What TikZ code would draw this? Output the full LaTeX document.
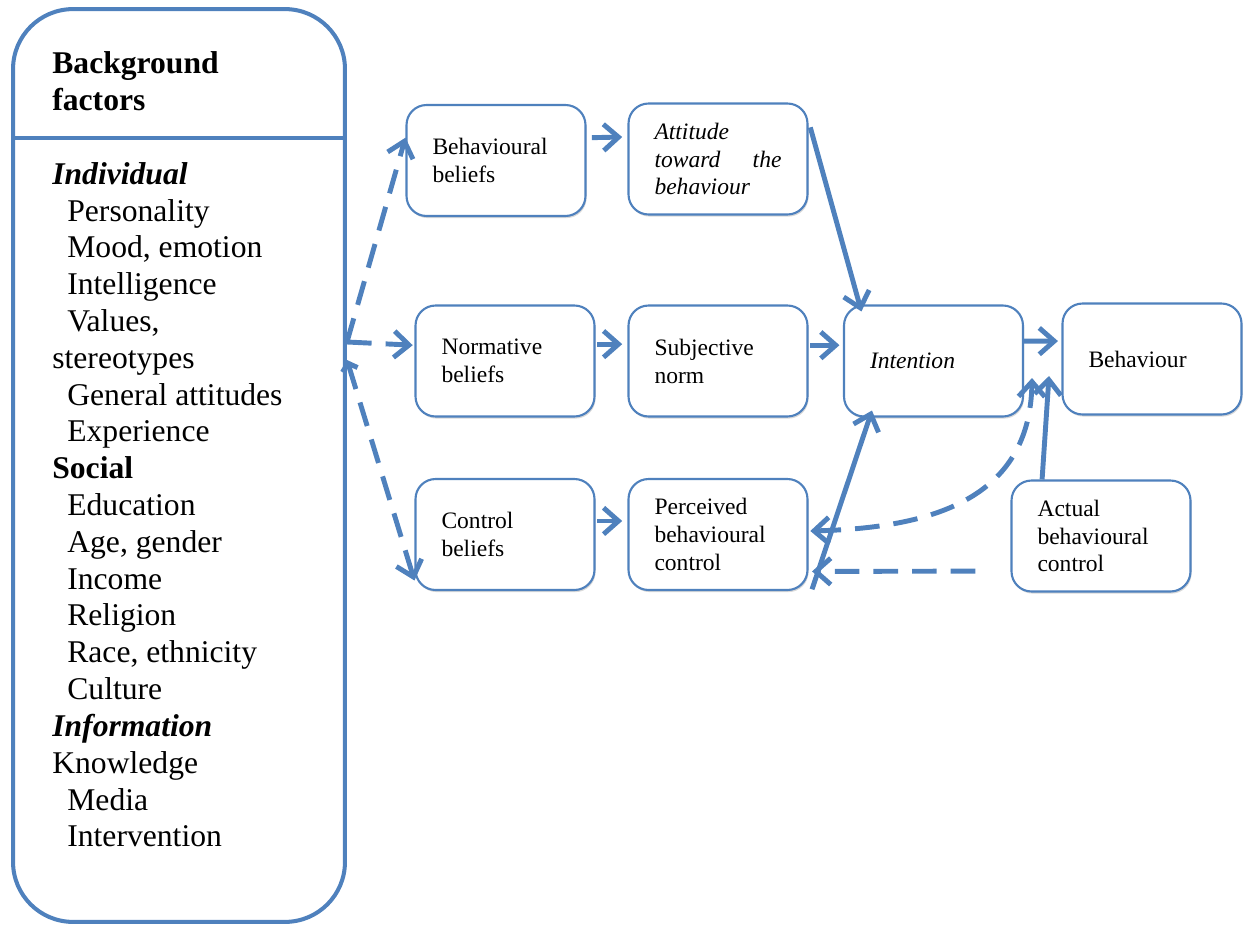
\documentclass[tikz,border=0pt]{standalone}
\usepackage{fontspec}
\setmainfont{Liberation Serif}
\usetikzlibrary{arrows.meta,shadows}
\definecolor{tpbblue}{HTML}{4F81BD}

\begin{document}
\begin{tikzpicture}[x=0.02cm,y=-0.02cm,
        factor/.style={draw=tpbblue, line width=1.2pt, fill=white, rounded corners=0.4cm,
            text width=2.54cm, align=left, inner xsep=0.52cm, minimum height=2.22cm,
            font=\fontsize{13.4}{15.9}\selectfont,
            drop shadow={opacity=0.3, shadow xshift=0.6pt, shadow yshift=-1.2pt}},
        flow/.style={draw=tpbblue, line width=2.8pt, -{Straight Barb[length=8.5pt,width=15pt]}},
        dflow/.style={flow, dash pattern=on 14pt off 8pt}]
    \useasboundingbox (0,0) rectangle (1248,926);
    % background factors
    \node[draw=tpbblue, line width=2.3pt, rounded corners=1.2cm, minimum width=6.64cm, minimum height=18.26cm] (bg) at (179,465.5) {};
    \coordinate (divide) at (0,138);
    \draw[tpbblue, line width=2.3pt] (bg.west |- divide) -- (bg.east |- divide);
    \node[anchor=north west, inner sep=0, align=left, font=\fontsize{18}{20.95}\selectfont\bfseries] (bgtitle) at (52,51) {Background\\factors};
    \node[anchor=north west, inner sep=0, align=left, font=\fontsize{18}{20.95}\selectfont] (bglist) at (52,162) {%
        \textbf{\textit{Individual}}\\
        \hspace*{0.3cm}Personality\\
        \hspace*{0.3cm}Mood, emotion\\
        \hspace*{0.3cm}Intelligence\\
        \hspace*{0.3cm}Values,\\
        stereotypes\\
        \hspace*{0.3cm}General attitudes\\
        \hspace*{0.3cm}Experience\\
        \textbf{Social}\\
        \hspace*{0.3cm}Education\\
        \hspace*{0.3cm}Age, gender\\
        \hspace*{0.3cm}Income\\
        \hspace*{0.3cm}Religion\\
        \hspace*{0.3cm}Race, ethnicity\\
        \hspace*{0.3cm}Culture\\
        \textbf{\textit{Information}}\\
        Knowledge\\
        \hspace*{0.3cm}Media\\
        \hspace*{0.3cm}Intervention};
    % beliefs
    \node[factor] (bb) at (496,160.5) {Behavioural\\beliefs};
    \node[factor] (nb) at (505,361) {Normative\\beliefs};
    \node[factor] (cb) at (505,534.5) {Control\\beliefs};
    % attitude, norm, control
    \node[factor] (att) at (718,159) {\textit{Attitude}\\\textit{toward}\hfill\textit{the}\\\textit{behaviour}};
    \node[factor] (sn) at (718,361) {Subjective\\norm};
    \node[factor] (pbc) at (718,534.5) {Perceived\\behavioural\\control};
    % intention, behaviour
    \node[factor] (int) at (933.5,361) {\textit{Intention}};
    \node[factor] (beh) at (1152,359) {Behaviour};
    \node[factor] (act) at (1101,536) {Actual\\behavioural\\control};
    % arrows
    \coordinate (hub) at (347,342);
    \coordinate (hublow) at (347,360);
    \coordinate (gapup) at (1049,376);
    \coordinate (gaplow) at (1032,378);
    \draw[dflow] (hub) -- ([yshift=13pt]bb.west);
    \draw[dflow] (hub) -- ([xshift=-1pt,yshift=9pt]nb.west);
    \draw[dflow, {Straight Barb[length=4pt,width=9pt]}-{Straight Barb[length=8.5pt,width=15pt]}] (hublow) -- ([yshift=6pt]cb.south west);
    \draw[flow] ([xshift=3pt,yshift=13pt]bb.east) -- ([xshift=-3pt,yshift=12.5pt]att.west);
    \draw[flow] ([xshift=1pt,yshift=9.6pt]nb.east) -- ([xshift=-3pt,yshift=9.6pt]sn.west);
    \draw[flow] ([xshift=1pt,yshift=7.7pt]cb.east) -- ([xshift=-3pt,yshift=7.7pt]pbc.west);
    \draw[flow] ([xshift=1pt,yshift=9pt]sn.east) -- ([xshift=-2pt,yshift=9pt]int.west);
    \draw[flow] ([yshift=11.3pt]int.east) -- ([xshift=-2pt,yshift=10.2pt]beh.west);
    \draw[flow] ([xshift=1pt,yshift=18pt]att.east) -- ([xshift=10.5pt,yshift=-4pt]int.north west);
    \draw[flow] ([xshift=2pt,yshift=1pt]pbc.south east) -- ([xshift=16.5pt,yshift=4pt]int.south west);
    \draw[flow] ([xshift=18pt]act.north west) -- (gapup);
    \draw[dflow] ([xshift=-20pt,yshift=-20pt]act.west) -- ([xshift=2pt,yshift=-21pt]pbc.east);
    \draw[dflow, {Straight Barb[length=8.5pt,width=15pt]}-{Straight Barb[length=8.5pt,width=15pt]}] ([xshift=1pt,yshift=2pt]pbc.east) .. controls (930,528) and (1030,500) .. (gaplow);
\end{tikzpicture}
\end{document}
